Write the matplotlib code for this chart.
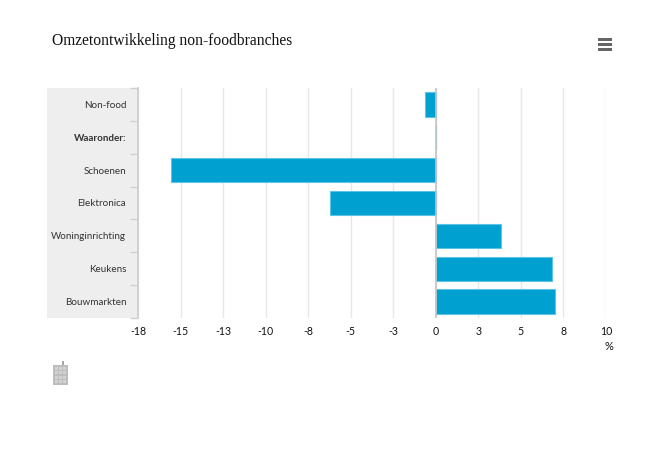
""" Bar chart of revenue development in non-food branches. """

import matplotlib
matplotlib.use("Agg")
import matplotlib.pyplot as plt
from matplotlib.patches import Rectangle

W, H = 650, 450

categories = ["Non-food", "Waaronder:", "Schoenen", "Elektronica",
              "Woninginrichting", "Keukens", "Bouwmarkten"]
values = [-0.65, None, -15.55, -6.2, 3.85, 6.8, 7.0]
tick_values = [-17.5, -15, -12.5, -10, -7.5, -5, -2.5, 0, 2.5, 5, 7.5, 10]
tick_labels = ["-18", "-15", "-13", "-10", "-8", "-5", "-3", "0", "3", "5", "8", "10"]

BAR_COLOUR = "#00a0d1"
EDGE_COLOUR = "#5cc4e4"
GRID_COLOUR = "#e8e8e8"
AXIS_COLOUR = "#d0d0d0"
PANEL_COLOUR = "#eeeeee"
LABEL_FONT = "Lato"


def px_rect(fig, x, y, w, h, **kwargs):
    """ Add a figure level rectangle given in pixels from the top left. """
    fig.add_artist(Rectangle((x / W, 1 - (y + h) / H), w / W, h / H,
                             transform=fig.transFigure, linewidth=0, **kwargs))


def draw_icons(fig):
    """ Menu button top right and the small calculator below the chart. """
    # Hamburger menu
    for y in (38.3, 43, 47.7):
        px_rect(fig, 598, y, 14, 2.8, facecolor="#666666")

    # Calculator
    px_rect(fig, 53, 365, 15, 20, facecolor="#bdbdbd")
    px_rect(fig, 61.5, 361, 2.5, 4, facecolor="#a8a8a8")
    for row in range(4):
        for col in range(3):
            px_rect(fig, 54.5 + col * 4.2, 367 + row * 4.4, 3.2, 3, facecolor="#d2d2d2")


def main():
    fig = plt.figure(figsize=(W / 100, H / 100), dpi=100)
    ax = fig.add_axes([138 / W, 1 - 318 / H, (606 - 138) / W, (318 - 88) / H])

    # Grey panel behind the category labels
    px_rect(fig, 47, 88, 91, 230, facecolor=PANEL_COLOUR, zorder=-1)

    y_pos = list(range(len(categories)))
    bar_values = [0 if v is None else v for v in values]
    ax.barh(y_pos, bar_values, height=0.74, color=BAR_COLOUR,
            edgecolor=EDGE_COLOUR, linewidth=0.8, zorder=3)

    ax.set_xlim(tick_values[0], tick_values[-1])
    ax.set_ylim(len(categories) - 0.5, -0.5)
    ax.patch.set_alpha(0)

    # Gridlines and zero line
    ax.set_xticks(tick_values)
    ax.set_xticklabels(tick_labels, fontsize=7.6, family=LABEL_FONT, color="#111111")
    ax.tick_params(axis="x", length=0, pad=5.6)
    ax.grid(axis="x", color=GRID_COLOUR, linewidth=1, zorder=0)
    ax.axvline(0, color="#c4c4c4", linewidth=1.2, zorder=4)

    # Category labels, ticks sit on the band boundaries
    ax.set_yticks(y_pos)
    ax.set_yticklabels(categories, fontsize=7.1, family=LABEL_FONT, color="#333333")
    ax.get_yticklabels()[1].set_fontweight("bold")
    ax.tick_params(axis="y", length=0, pad=8.5)
    ax.set_yticks([y - 0.5 for y in range(len(categories) + 1)], minor=True)
    ax.tick_params(axis="y", which="minor", length=6, width=1, color=AXIS_COLOUR)

    for side in ("top", "right", "bottom"):
        ax.spines[side].set_visible(False)
    ax.spines["left"].set_color(AXIS_COLOUR)
    ax.spines["left"].set_linewidth(1.3)

    fig.text(52 / W, 1 - 41 / H, "Omzetontwikkeling non-foodbranches",
             fontsize=11.2, family="Liberation Serif", color="#111111",
             va="center", ha="left")
    fig.text(609 / W, 1 - 346 / H, "%", fontsize=8, family=LABEL_FONT,
             color="#111111", va="center", ha="center")

    draw_icons(fig)

    plt.savefig("out.png", dpi=100)


if __name__ == "__main__":
    main()
